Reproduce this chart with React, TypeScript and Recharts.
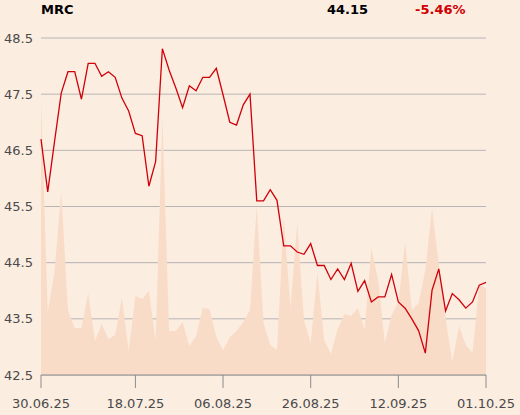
import {
  Area,
  CartesianGrid,
  ComposedChart,
  Line,
  XAxis,
  YAxis,
} from "recharts";

const dates = [
  "30.06.25",
  "01.07.25", "02.07.25", "03.07.25", "04.07.25",
  "07.07.25", "08.07.25", "09.07.25", "10.07.25", "11.07.25",
  "14.07.25", "15.07.25", "16.07.25", "17.07.25", "18.07.25",
  "21.07.25", "22.07.25", "23.07.25", "24.07.25", "25.07.25",
  "28.07.25", "29.07.25", "30.07.25", "31.07.25",
  "01.08.25",
  "04.08.25", "05.08.25", "06.08.25", "07.08.25", "08.08.25",
  "11.08.25", "12.08.25", "13.08.25", "14.08.25",
  "18.08.25", "19.08.25", "20.08.25", "21.08.25", "22.08.25",
  "25.08.25", "26.08.25", "27.08.25", "28.08.25", "29.08.25",
  "01.09.25", "02.09.25", "03.09.25", "04.09.25", "05.09.25",
  "08.09.25", "09.09.25", "10.09.25", "11.09.25", "12.09.25",
  "15.09.25", "16.09.25", "17.09.25", "18.09.25", "19.09.25",
  "22.09.25", "23.09.25", "24.09.25", "25.09.25", "26.09.25",
  "29.09.25", "30.09.25",
  "01.10.25",
];

const prices = [
  46.7, 45.76, 46.65, 47.52, 47.9, 47.9, 47.41, 48.05, 48.05, 47.82,
  47.9, 47.8, 47.43, 47.2, 46.8, 46.76, 45.86, 46.3, 48.31, 47.93,
  47.61, 47.26, 47.65, 47.56, 47.8, 47.8, 47.96, 47.49, 47.0, 46.95,
  47.31, 47.5, 45.6, 45.6, 45.8, 45.61, 44.8, 44.8, 44.69, 44.65,
  44.84, 44.45, 44.45, 44.2, 44.39, 44.2, 44.49, 43.99, 44.18, 43.8,
  43.89, 43.89, 44.29, 43.8, 43.69, 43.5, 43.29, 42.89, 44.01, 44.39,
  43.64, 43.95, 43.84, 43.69, 43.8, 44.1, 44.15,
];

// relative turnover, drawn on its own hidden axis
const volumes = [
  278, 63, 103, 184, 65, 47, 47, 82, 34, 51,
  36, 40, 77, 24, 79, 76, 84, 34, 258, 44,
  44, 53, 29, 39, 67, 66, 38, 25, 38, 44,
  53, 65, 169, 52, 30, 25, 157, 67, 152, 55,
  32, 102, 35, 21, 46, 61, 59, 67, 45, 127,
  95, 32, 60, 73, 133, 65, 72, 105, 167, 110,
  57, 13, 49, 30, 22, 90, 87,
];

const priceTicks = [42.5, 43.5, 44.5, 45.5, 46.5, 47.5, 48.5];
const dateTicks = ["30.06.25", "18.07.25", "06.08.25", "26.08.25", "12.09.25", "01.10.25"];

const symbol = "MRC";
const lastPrice = "44.15";
const change = "-5.46%";

const data = dates.map((date, i) => ({
  date,
  price: prices[i],
  volume: volumes[i],
}));

const font = "'DejaVu Sans', sans-serif";

const headerStyle = {
  position: "absolute" as const,
  top: 3,
  fontFamily: font,
  fontSize: 13,
  fontWeight: 700,
  lineHeight: 1,
  whiteSpace: "nowrap" as const,
};

export default function App() {
  return (
    <div
      style={{
        position: "absolute",
        left: 0,
        top: 0,
        width: 520,
        height: 415,
        background: "#fcede1",
      }}
    >
      <ComposedChart
        data={data}
        height={415}
        margin={{ top: 38, right: 34, left: 0, bottom: 0 }}
        width={520}
      >
        <XAxis
          dataKey="date"
          height={40}
          interval={0}
          stroke="#8c8c8c"
          tick={{ fill: "#4a4a4a", fontFamily: font, fontSize: 13 }}
          tickMargin={11}
          tickSize={13}
          ticks={dateTicks}
        />
        <YAxis
          axisLine={false}
          domain={[42.5, 48.5]}
          tick={{ fill: "#4a4a4a", fontFamily: font, fontSize: 13 }}
          tickFormatter={(v) => v.toFixed(1)}
          tickLine={false}
          tickMargin={8}
          tickSize={0}
          ticks={priceTicks}
          width={41}
          yAxisId="price"
        />
        <YAxis domain={[0, 337]} hide yAxisId="vol" />
        <Area
          dataKey="volume"
          fill="#f8dcc7"
          fillOpacity={1}
          isAnimationActive={false}
          stroke="none"
          type="linear"
          yAxisId="vol"
        />
        <CartesianGrid
          stroke="#b5b5b5"
          vertical={false}
          yAxisId="price"
        />
        <Line
          dataKey="price"
          dot={false}
          isAnimationActive={false}
          stroke="#d0000a"
          strokeWidth={1.3}
          type="linear"
          yAxisId="price"
        />
      </ComposedChart>
      <div style={{ ...headerStyle, left: 41, color: "#000" }}>{symbol}</div>
      <div style={{ ...headerStyle, left: 327, color: "#000" }}>{lastPrice}</div>
      <div style={{ ...headerStyle, left: 415, color: "#d00000" }}>{change}</div>
    </div>
  );
}
